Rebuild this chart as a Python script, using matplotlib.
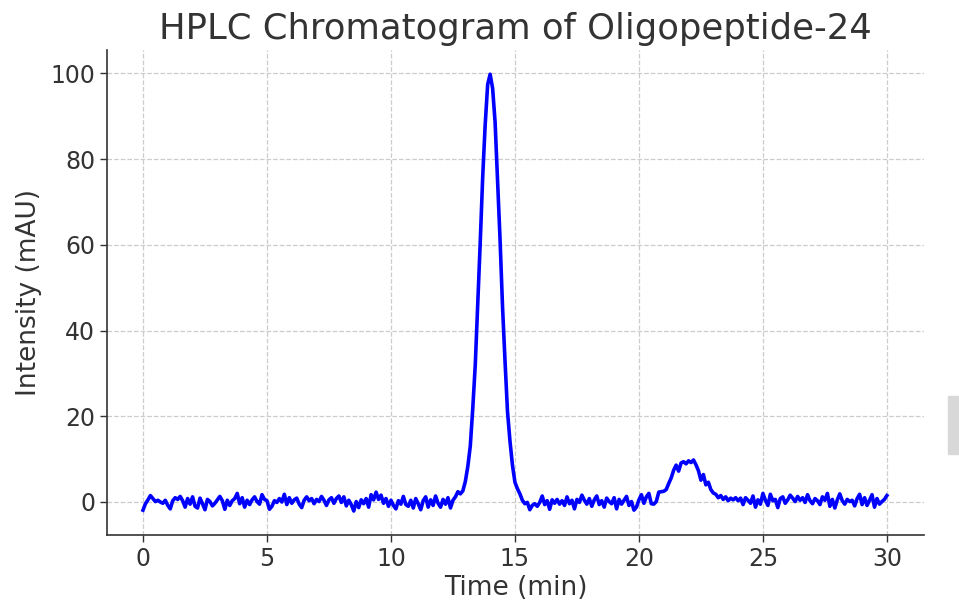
import numpy as np
import matplotlib
matplotlib.use("Agg")
import matplotlib.pyplot as plt

# ----------------------------
# Chromatogram readings (one point every 0.1 min, 0-30 min)
# ----------------------------
intensity = [
    -1.9, -0.4, 0.5, 1.5, 0.8, 0.1, 0.4, 0.0, -0.3, 0.4,
    -0.8, -1.6, 0.3, 1.0, 0.6, 1.3, 0.3, -1.2, 0.8, -0.5,
    1.2, -1.0, -1.4, 0.9, -0.4, -1.8, 0.6, 0.1, -0.9, -0.3,
    0.5, 1.3, 0.3, -1.7, 0.4, -0.8, 0.3, 0.8, 2.0, -0.4,
    1.0, -1.2, 0.4, -0.6, 0.5, 1.2, 0.1, -0.5, 1.7, 0.6,
    0.3, -1.7, -1.0, 0.3, -0.1, 0.8, 0.0, 1.8, -0.6, 1.0,
    -0.3, 0.5, 0.9, -0.5, -1.3, 0.4, 1.2, 0.3, 0.8, -0.4,
    0.6, 0.1, 1.3, 0.4, -0.8, 0.5, 1.0, -0.3, 0.8, 1.4,
    -0.1, 1.2, -0.9, 0.4, -0.6, -2.1, 0.1, -1.3, 0.5, -0.4,
    0.8, -1.2, 1.7, 0.5, 2.3, 0.6, 1.6, -0.3, 0.8, -1.0,
    0.4, -0.8, -1.6, 0.3, -0.5, 1.3, -0.6, -1.0, 0.4, -1.4,
    0.8, -0.4, -1.8, 0.3, 1.2, -1.2, 0.5, -0.8, 1.4, -0.3,
    -1.2, 0.6, -0.5, 1.0, -1.4, 0.4, 1.2, 2.4, 1.9, 2.6,
    4.8, 8.3, 13.1, 21.9, 32.0, 46.2, 60.5, 75.9, 88.0, 97.4,
    99.8, 96.5, 88.6, 75.1, 61.2, 45.5, 32.9, 21.1, 14.2, 8.6,
    4.6, 3.1, 1.9, 0.4, -0.4, -0.1, -1.8, -0.8, -0.4, -1.0,
    -0.1, 1.4, -0.6, 0.3, -1.7, 0.5, -0.3, 0.6, -0.5, 0.3,
    -0.8, 1.2, -0.4, 0.4, -1.6, 0.6, -0.1, 1.6, 0.4, -0.5,
    0.8, -1.0, 0.5, 1.4, -0.6, 0.3, -1.2, 0.9, 0.1, -0.4,
    1.0, -1.6, 0.6, -0.5, 0.4, 1.3, -0.8, 0.1, -1.9, -1.2,
    0.5, 1.7, -0.3, 1.2, 2.0, -0.4, -0.5, 0.1, 2.3, 2.4,
    2.5, 2.9, 4.3, 5.6, 7.4, 8.6, 7.2, 9.1, 9.4, 8.9,
    9.6, 9.2, 9.8, 8.7, 7.3, 5.1, 6.4, 4.0, 4.6, 2.9,
    2.1, 1.8, 1.0, 1.5, 0.6, 1.2, 0.3, 0.9, 0.5, 1.0,
    0.3, 0.9, -0.6, 1.0, 0.4, -0.3, 1.4, -1.2, 0.5, -0.5,
    2.0, 0.4, -0.8, 1.8, 0.3, 0.6, -1.3, 0.8, 1.2, -0.3,
    0.5, 1.6, 0.9, 0.1, 1.3, 0.4, 1.0, -0.1, 1.7, 0.3,
    -0.4, 0.8, 0.3, -0.6, 1.2, 0.4, 2.0, -1.0, 0.6, -1.4,
    0.5, 1.9, 0.3, -0.5, 0.6, 0.1, 0.4, -0.9, 0.8, 1.8,
    -0.6, 1.0, -0.8, 0.4, 1.7, -1.2, 0.8, -0.5, 0.1, 0.6,
    1.5,
]
time_min = np.linspace(0, 30, len(intensity))

x_ticks = [0, 5, 10, 15, 20, 25, 30]
y_ticks = [0, 20, 40, 60, 80, 100]

# ----------------------------
# Plot
# ----------------------------
fig = plt.figure(figsize=(9.59, 6.05), dpi=100)
ax = fig.add_axes([0.1116, 0.1157, 0.852, 0.8013])

ax.plot(time_min, intensity, color="blue", linewidth=2.6)

ax.set_title("HPLC Chromatogram of Oligopeptide-24", fontsize=25.5, color="#333333", pad=8)
ax.set_xlabel("Time (min)", fontsize=19, color="#333333", labelpad=3)
ax.set_ylabel("Intensity (mAU)", fontsize=19, color="#333333", labelpad=6)

ax.set_xticks(x_ticks)
ax.set_yticks(y_ticks)
ax.set_xlim(-1.45, 31.5)
ax.set_ylim(-7.7, 105.4)
ax.tick_params(labelsize=17, colors="#333333", length=5, width=1)

ax.grid(True, linestyle="--", color="#cccccc", linewidth=0.9)
ax.set_axisbelow(True)
for side in ["top", "right"]:
    ax.spines[side].set_visible(False)
for side in ["left", "bottom"]:
    ax.spines[side].set_color("#333333")
    ax.spines[side].set_linewidth(1.2)

# small grey scrap on the right edge of the original image
fig.patches.append(plt.Rectangle((0.989, 0.25), 0.011, 0.095, transform=fig.transFigure,
                                 color="#d8d8d8", zorder=-1))

fig.savefig("out.png", dpi=100)
